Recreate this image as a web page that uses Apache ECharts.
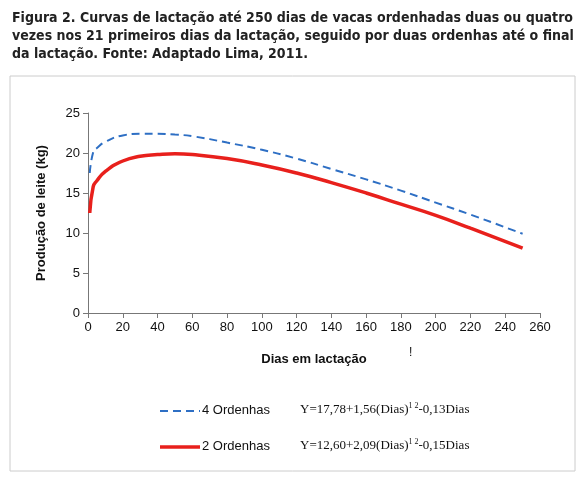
<!DOCTYPE html><html><head><meta charset="utf-8">
<script src="https://cdn.jsdelivr.net/npm/echarts@6/dist/echarts.min.js"></script>
<style>body{margin:0;background:#fff}#t{position:absolute;left:12px;top:8px;width:568px;font:bold 14px "DejaVu Sans Condensed","Liberation Sans Narrow",sans-serif;color:#222;line-height:18px}#c{position:absolute;left:0;top:0;width:585px;height:486px}</style>
</head><body><div id="c"></div><div id="t">Figura 2. Curvas de lactação até 250 dias de vacas ordenhadas duas ou quatro vezes nos 21 primeiros dias da lactação, seguido por duas ordenhas até o final da lactação. Fonte: Adaptado Lima, 2011.</div>
<script>
const days = [1,3,5,10,20,30,40,50,60,80,100,120,140,160,180,200,220,250];
const quatro = [17.5,20.1,20.6,21.4,22.2,22.4,22.4,22.3,22.1,21.3,20.4,19.3,18.0,16.7,15.3,13.8,12.3,9.9];
const duas = [12.5,15.8,16.5,17.7,19.0,19.6,19.8,19.9,19.8,19.3,18.5,17.5,16.3,15.0,13.6,12.2,10.6,8.1];
const xTicks = [0,260,20];
const yTicks = [0,25,5];
const c = echarts.init(document.getElementById('c'));
const f = '"Liberation Sans",sans-serif';
c.setOption({
  animation:false,
  grid:{left:88,right:45,top:113,bottom:173},
  xAxis:{type:'value',min:xTicks[0],max:xTicks[1],interval:xTicks[2],
    axisLine:{lineStyle:{color:'#777'}},axisTick:{lineStyle:{color:'#777'}},splitLine:{show:false},
    axisLabel:{color:'#111',fontSize:13,fontFamily:f},
    name:'Dias em lactação',nameLocation:'middle',nameGap:40,nameTextStyle:{fontWeight:'bold',fontSize:13,fontFamily:f,color:'#111'}},
  yAxis:{type:'value',min:yTicks[0],max:yTicks[1],interval:yTicks[2],
    axisLine:{show:true,lineStyle:{color:'#777'}},axisTick:{show:true,lineStyle:{color:'#777'}},splitLine:{show:false},
    axisLabel:{color:'#111',fontSize:13,fontFamily:f},
    name:'Produção de leite (kg)',nameLocation:'middle',nameGap:40,nameTextStyle:{fontWeight:'bold',fontSize:13,fontFamily:f,color:'#111'}},
  series:[
    {name:'4 Ordenhas',type:'line',smooth:true,showSymbol:false,data:days.map((d,i)=>[d,quatro[i]]),lineStyle:{color:'#2e6fc4',width:2,type:[8,5]}},
    {name:'2 Ordenhas',type:'line',smooth:true,showSymbol:false,data:days.map((d,i)=>[d,duas[i]]),lineStyle:{color:'#e8201c',width:3.5}}
  ],
  graphic:[
    {type:'rect',shape:{x:10,y:76,width:565,height:395},style:{fill:'none',stroke:'#ccc',lineWidth:1},silent:true},
    {type:'text',left:409,top:347,style:{text:'!',fontSize:12,fill:'#111',font:'bold 12px '+f}},
    {type:'line',shape:{x1:160,y1:411,x2:200,y2:411},style:{stroke:'#2e6fc4',lineWidth:2,lineDash:[8,5]}},
    {type:'text',left:202,top:404,style:{text:'4 Ordenhas',font:'13px '+f,fill:'#111'}},
    {type:'line',shape:{x1:160,y1:447,x2:200,y2:447},style:{stroke:'#e8201c',lineWidth:3.5}},
    {type:'text',left:202,top:440,style:{text:'2 Ordenhas',font:'13px '+f,fill:'#111'}},
    {type:'text',left:300,top:402,style:{text:'{a|Y=17,78+1,56(Dias)}{s|1 2}{a|-0,13Dias}',rich:{a:{font:'13px "Liberation Serif",serif',fill:'#111'},s:{font:'8px "Liberation Serif",serif',fill:'#111',verticalAlign:'top',padding:[0,0,8,0]}}}},
    {type:'text',left:300,top:438,style:{text:'{a|Y=12,60+2,09(Dias)}{s|1 2}{a|-0,15Dias}',rich:{a:{font:'13px "Liberation Serif",serif',fill:'#111'},s:{font:'8px "Liberation Serif",serif',fill:'#111',verticalAlign:'top',padding:[0,0,8,0]}}}}
  ]
});
</script></body></html>
